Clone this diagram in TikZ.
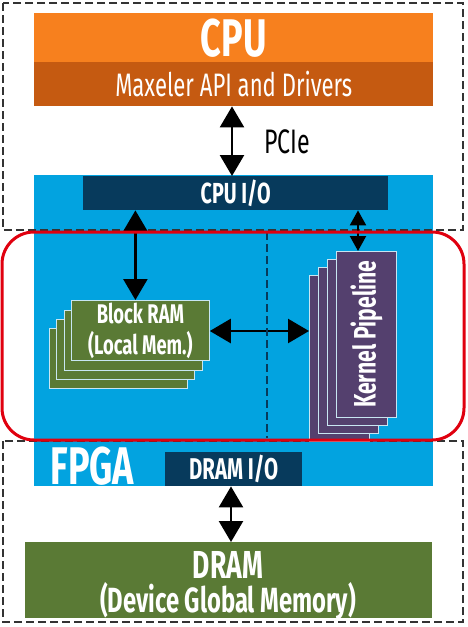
\documentclass[tikz,border=0pt]{standalone}
\usepackage{fontspec}
\setmainfont[FakeStretch=0.68]{Fira Sans}
\usetikzlibrary{arrows.meta}
\definecolor{cpuorange}{HTML}{F7801E}
\definecolor{cpubrown}{HTML}{C55A11}
\definecolor{fpgablue}{HTML}{02A3E0}
\definecolor{ionavy}{HTML}{073A5C}
\definecolor{ramgreen}{HTML}{5A7A35}
\definecolor{kpurple}{HTML}{54406E}
\definecolor{redline}{HTML}{E0000F}
\definecolor{edgeblue}{HTML}{C8E6F2}
\tikzset{
  box/.style={draw=none, inner sep=0pt, anchor=north west, text=white, align=center},
  stackbox/.style={draw=edgeblue, line width=0.8pt, inner sep=0pt, anchor=north west, text=white, align=center},
  dashbox/.style={draw=black!80, line width=1.2pt, dash pattern=on 8pt off 4pt},
  bigarrow/.style={line width=2.5pt, {Triangle[width=24pt,length=21pt]}-{Triangle[width=24pt,length=21pt]}},
  smallarrow/.style={line width=2.2pt, {Triangle[width=16pt,length=15pt]}-{Triangle[width=16pt,length=15pt]}},
}
\begin{document}
\begin{tikzpicture}[x=1pt,y=-1pt]
\useasboundingbox (0,0) rectangle (468,627);
\fill[white] (0,0) rectangle (468,627);
% CPU
\node[box, fill=cpuorange, minimum width=399pt, minimum height=49pt] (cpu) at (34,13) {};
\node[box, fill=cpubrown, minimum width=399pt, minimum height=44pt] (api) at (34,62) {};
% FPGA
\node[box, fill=fpgablue, minimum width=399pt, minimum height=311pt] (fpga) at (34,175) {};
\node[box, fill=ionavy, minimum width=305pt, minimum height=34pt] (cpuio) at (83,176) {};
\node[box, fill=ionavy, minimum width=137pt, minimum height=34pt] (dramio) at (165,452) {};
% DRAM
\node[box, fill=ramgreen, minimum width=407pt, minimum height=76pt] (dram) at (25,542) {};
% dashed boxes
\draw[dashbox] (3,3) rectangle (463,230);
\draw[dashbox] (3,441) rectangle (463,622);
% Block RAM stack
\node[stackbox, fill=ramgreen, minimum width=138pt, minimum height=60pt] (br4) at (49,328) {};
\node[stackbox, fill=ramgreen, minimum width=138pt, minimum height=60pt] (br3) at (56,319) {};
\node[stackbox, fill=ramgreen, minimum width=138pt, minimum height=60pt] (br2) at (64,310) {};
\node[stackbox, fill=ramgreen, minimum width=138pt, minimum height=60pt] (br1) at (71,300) {};
% Kernel stack
\node[stackbox, fill=kpurple, minimum width=60pt, minimum height=166pt] (kp4) at (309,275) {};
\node[stackbox, fill=kpurple, minimum width=60pt, minimum height=166pt] (kp3) at (318,267) {};
\node[stackbox, fill=kpurple, minimum width=60pt, minimum height=166pt] (kp2) at (327,259) {};
\node[stackbox, fill=kpurple, minimum width=60pt, minimum height=166pt] (kp1) at (336,251) {};
% texts
\node[text=white, font=\bfseries\fontsize{53}{53}\selectfont] (cputxt) at (cpu.center) {CPU};
\node[text=white, font=\fontsize{32.5}{32.5}\selectfont] (apitxt) at (api.center) {Maxeler API and Drivers};
\node[text=white, font=\bfseries\fontsize{29}{29}\selectfont] (cpuiotxt) at (cpuio.center) {CPU I/O};
\node[text=white, font=\bfseries\fontsize{30}{30}\selectfont] (dramiotxt) at (dramio.center) {DRAM I/O};
\node[text=white, font=\bfseries\fontsize{53}{53}\selectfont, anchor=west] (fpgatxt) at (47,466) {FPGA};
\node[text=white, font=\bfseries\fontsize{27}{31}\selectfont, align=center] (brtxt) at (br1.center) {Block RAM\\(Local Mem.)};
\node[text=white, font=\bfseries\fontsize{31}{31}\selectfont, rotate=90] (kptxt) at (kp1.center) {Kernel Pipeline};
\node[text=white, font=\bfseries\fontsize{39}{39}\selectfont] (dramtxt) at (228,565) {DRAM};
\node[text=white, font=\bfseries\fontsize{35}{35}\selectfont] (dgmtxt) at (228,601) {(Device Global Memory)};
\node[text=black, font=\fontsize{34}{34}\selectfont, anchor=west] (pcie) at (261,142) {PCIe};
% arrows
\draw[bigarrow] (api.south -| 232,0) -- (cpuio.north -| 232,0);
\draw[bigarrow] (cpuio.south -| br1.north) ++(-5,0) coordinate (a1) -- (a1 |- br1.north);
\draw[smallarrow] (cpuio.south -| 358,0) -- (kp1.north -| 358,0);
\draw[bigarrow] (br1.east |- 0,331) -- (kp4.west |- 0,331);
\draw[bigarrow] (dramio.south -| 231,0) -- (dram.north -| 231,0);
% red region and dashed divider
\coordinate (dtop) at (267,232);
\coordinate (dbot) at (267,438);
\draw[ionavy, line width=1.2pt, dash pattern=on 8pt off 4pt] (dtop) -- (dbot);
\draw[redline, line width=3pt, rounded corners=32pt] (2,232) rectangle (464,440);
\end{tikzpicture}
\end{document}
